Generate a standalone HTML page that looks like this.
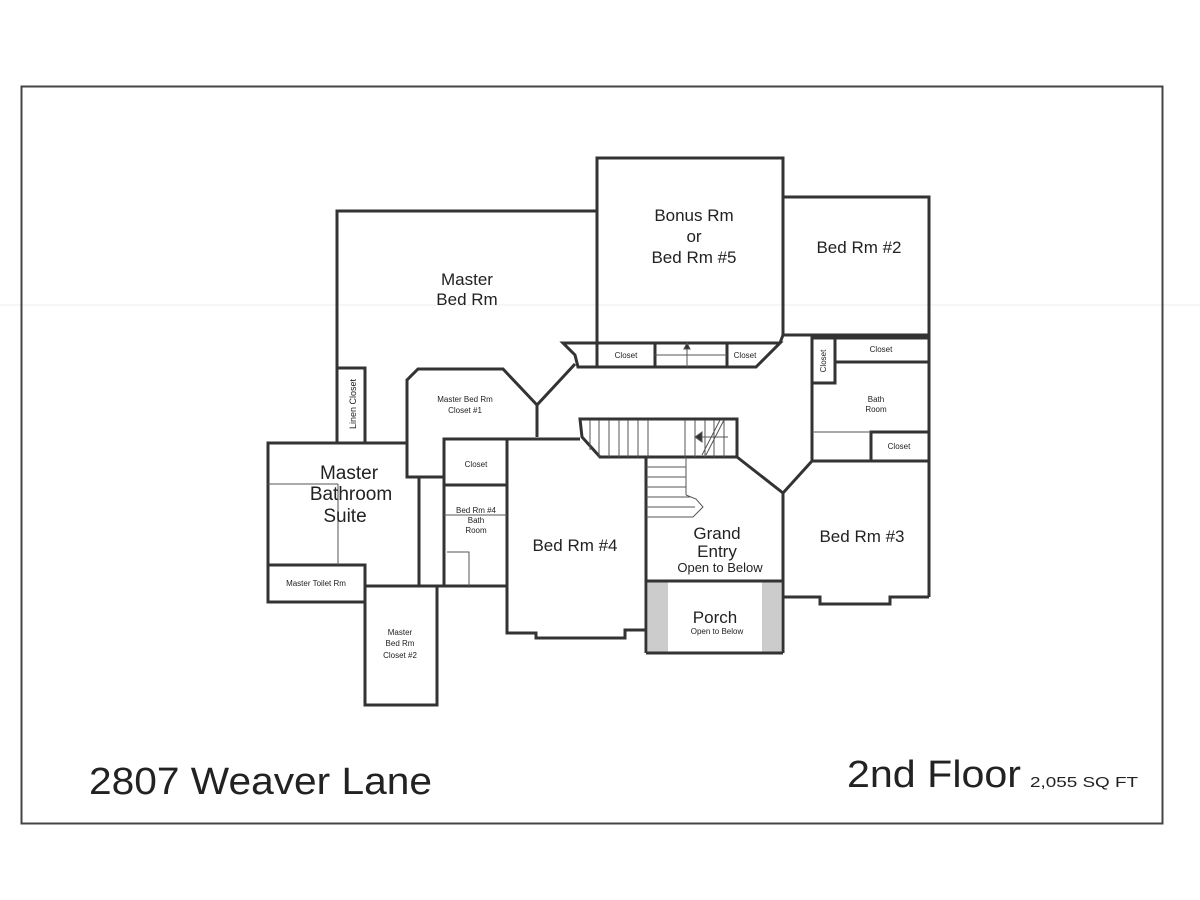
<!DOCTYPE html>
<html><head><meta charset="utf-8"><style>
html,body{margin:0;padding:0;background:#fff;}
svg{display:block;}
text{font-family:"Liberation Sans",sans-serif;fill:#222;}
</style></head><body>
<svg width="1200" height="900" viewBox="0 0 1200 900" xmlns="http://www.w3.org/2000/svg">
<rect x="0" y="0" width="1200" height="900" fill="#fff"/>
<line x1="0" y1="305" x2="1200" y2="305" stroke="#eee" stroke-width="1"/>
<rect x="21.5" y="86.5" width="1141" height="737" fill="none" stroke="#444" stroke-width="2"/>

<g fill="none" stroke="#333" stroke-width="3" stroke-linejoin="miter">
<!-- porch gray -->
<rect x="648" y="581" width="20" height="71" fill="#ccc" stroke="none"/>
<rect x="762" y="581" width="19" height="71" fill="#ccc" stroke="none"/>
<!-- Master bed rm -->
<polyline points="337,443 337,211 597,211"/>
<!-- Bonus -->
<polyline points="597,343 597,158 783,158 783,335 780,343"/>
<!-- closet strip -->
<polygon points="563,343 780,343 756,367 578,367 575,355"/>
<line x1="597" y1="343" x2="597" y2="367"/>
<line x1="655" y1="343" x2="655" y2="367"/>
<line x1="727" y1="343" x2="727" y2="367"/>
<!-- Bed 2 -->
<polyline points="783,197 929,197 929,597"/>
<line x1="783" y1="335" x2="929" y2="335"/>
<!-- right closets/bath -->
<rect x="812" y="338" width="23" height="45"/>
<polyline points="812,338 929,338"/>
<line x1="835" y1="362" x2="929" y2="362"/>
<polyline points="812,383 812,461"/>
<rect x="871" y="432" width="58" height="29"/>
<line x1="812" y1="461" x2="871" y2="461"/>
<!-- diag down from strip -->
<polyline points="575,364 537,405 537,437"/>
<!-- Master closet 1 -->
<polyline points="537,405 503,369 418,369 407,380 407,477 444,477"/>
<!-- line at y 439 -->
<line x1="444" y1="439" x2="580" y2="439"/>
<!-- bed4 closet & bath -->
<rect x="444" y="439" width="63" height="46"/>
<polyline points="444,485 444,586 507,586"/>
<!-- Bed Rm 4 -->
<polyline points="507,439 507,633 536,633 536,638 625,638 625,630 646,630"/>
<line x1="646" y1="457" x2="646" y2="653"/>
<!-- Master bathroom -->
<polyline points="337,443 268,443 268,602 365,602"/>
<polyline points="337,443 407,443"/>
<rect x="268" y="565" width="97" height="37"/>
<rect x="365" y="586" width="72" height="119"/>
<line x1="419" y1="477" x2="419" y2="586"/>
<line x1="365" y1="586" x2="444" y2="586"/>
<!-- linen closet -->
<rect x="337" y="368" width="28" height="75"/>
<!-- stairs upper -->
<polygon points="580,419 737,419 737,457 646,457 600,457 582,437"/>
<polyline points="737,457 783,493 812,461"/>
<!-- Grand entry / porch -->
<line x1="783" y1="493" x2="783" y2="653"/>
<line x1="646" y1="581" x2="783" y2="581"/>
<line x1="646" y1="653" x2="783" y2="653"/>
<!-- Bed 3 -->
<polyline points="783,597 820,597 820,604 890,604 890,597 929,597"/>
</g>

<g stroke="#555" stroke-width="1" fill="none">
<line x1="268" y1="484" x2="338" y2="484"/>
<line x1="338" y1="484" x2="338" y2="565"/>
<line x1="444" y1="515" x2="507" y2="515"/>
<polyline points="447,552 469,552 469,586"/>
<line x1="812" y1="432" x2="871" y2="432"/>
<line x1="655" y1="355" x2="727" y2="355"/>
<line x1="687" y1="347" x2="687" y2="367"/>
<polygon points="684,349 687,343 690,349" fill="#333"/>
<!-- stair treads upper -->
<line x1="590" y1="420" x2="590" y2="450"/>
<line x1="599" y1="420" x2="599" y2="457"/>
<line x1="609" y1="420" x2="609" y2="457"/>
<line x1="619" y1="420" x2="619" y2="457"/>
<line x1="628" y1="420" x2="628" y2="457"/>
<line x1="638" y1="420" x2="638" y2="457"/>
<line x1="648" y1="420" x2="648" y2="457"/>
<line x1="685" y1="420" x2="685" y2="457"/>
<line x1="695" y1="420" x2="695" y2="457"/>
<line x1="705" y1="420" x2="705" y2="457"/>
<line x1="714" y1="420" x2="714" y2="457"/>
<line x1="724" y1="420" x2="724" y2="457"/>
<line x1="695" y1="437" x2="728" y2="437"/>
<polygon points="695,437 702,432 702,442" fill="#333"/>
<line x1="702" y1="455" x2="720" y2="420"/>
<line x1="706" y1="455" x2="724" y2="420"/>
<!-- lower stairs -->
<line x1="686" y1="457" x2="686" y2="495"/>
<line x1="646" y1="467" x2="686" y2="467"/>
<line x1="646" y1="477" x2="686" y2="477"/>
<line x1="646" y1="487" x2="686" y2="487"/>
<line x1="646" y1="497" x2="690" y2="497"/>
<line x1="646" y1="507" x2="695" y2="507"/>
<polyline points="646,517 693,517 703,507 696,499 686,495"/>
</g>

<g text-anchor="middle">
<text x="467" y="285" font-size="17">Master</text>
<text x="467" y="305" font-size="17">Bed Rm</text>
<text x="694" y="221" font-size="17">Bonus Rm</text>
<text x="694" y="242" font-size="17">or</text>
<text x="694" y="263" font-size="17">Bed Rm #5</text>
<text x="859" y="253" font-size="17">Bed Rm #2</text>
<text x="626" y="358" font-size="8">Closet</text>
<text x="745" y="358" font-size="8">Closet</text>
<text x="881" y="352" font-size="8">Closet</text>
<text x="876" y="402" font-size="8">Bath</text>
<text x="876" y="412" font-size="8">Room</text>
<text x="899" y="449" font-size="8">Closet</text>
<text x="465" y="402" font-size="8">Master Bed Rm</text>
<text x="465" y="413" font-size="8">Closet #1</text>
<text x="476" y="467" font-size="8">Closet</text>
<text x="476" y="513" font-size="8">Bed Rm #4</text>
<text x="476" y="523" font-size="8">Bath</text>
<text x="476" y="533" font-size="8">Room</text>
<text x="349" y="479" font-size="19">Master</text>
<text x="351" y="500" font-size="19">Bathroom</text>
<text x="345" y="522" font-size="19">Suite</text>
<text x="316" y="586" font-size="8">Master Toilet Rm</text>
<text x="400" y="635" font-size="8">Master</text>
<text x="400" y="646" font-size="8">Bed Rm</text>
<text x="400" y="658" font-size="8">Closet #2</text>
<text x="575" y="551" font-size="17">Bed Rm #4</text>
<text x="717" y="539" font-size="17">Grand</text>
<text x="717" y="557" font-size="17">Entry</text>
<text x="720" y="572" font-size="13">Open to Below</text>
<text x="862" y="542" font-size="17">Bed Rm #3</text>
<text x="715" y="623" font-size="17">Porch</text>
<text x="717" y="634" font-size="8">Open to Below</text>
</g>
<text x="356" y="404" font-size="9" text-anchor="middle" transform="rotate(-90 356 404)">Linen Closet</text>
<text x="826" y="361" font-size="8" text-anchor="middle" transform="rotate(-90 826 361)">Closet</text>

<text x="89" y="794" font-size="38" textLength="343" lengthAdjust="spacingAndGlyphs">2807 Weaver Lane</text>
<text x="847" y="787" font-size="38" textLength="174" lengthAdjust="spacingAndGlyphs">2nd Floor</text>
<text x="1030" y="787" font-size="15" textLength="108" lengthAdjust="spacingAndGlyphs">2,055 SQ FT</text>
</svg>
</body></html>
